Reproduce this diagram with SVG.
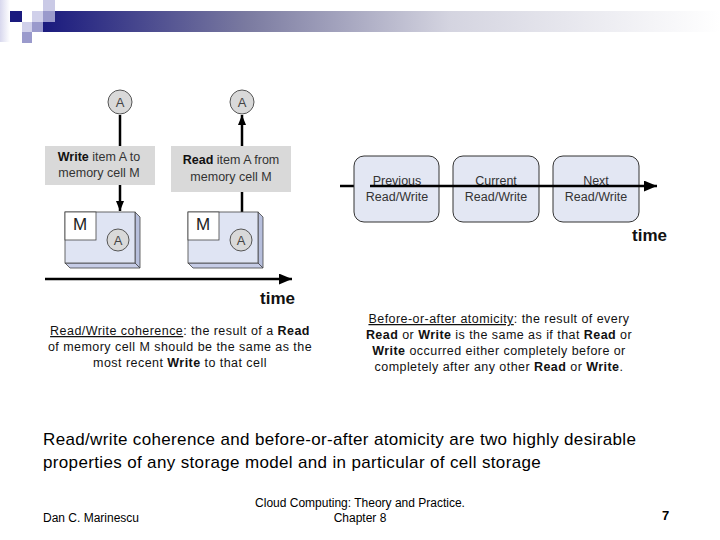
<svg xmlns="http://www.w3.org/2000/svg" width="720" height="540" viewBox="0 0 720 540">
<defs>
<linearGradient id="bar" x1="0" y1="0" x2="1" y2="0">
<stop offset="0" stop-color="#1a1a7e"/>
<stop offset="0.3" stop-color="#7a7aa0"/>
<stop offset="0.6" stop-color="#d4d4e0"/>
<stop offset="1" stop-color="#ffffff"/>
</linearGradient>
<linearGradient id="edge" x1="0" y1="0" x2="1" y2="0">
<stop offset="0" stop-color="#d8d8ee"/>
<stop offset="1" stop-color="#ffffff"/>
</linearGradient>
<marker id="ah" viewBox="0 0 10 10" refX="10" refY="5" markerWidth="10" markerHeight="10" markerUnits="userSpaceOnUse" orient="auto">
<path d="M0,1 L10,5 L0,9 Z" fill="#000"/>
</marker>
<marker id="ahb" viewBox="0 0 12 10" refX="12" refY="5" markerWidth="13" markerHeight="11" markerUnits="userSpaceOnUse" orient="auto">
<path d="M0,0 L12,5 L0,10 Z" fill="#000"/>
</marker>
</defs>
<style>
text{font-family:"Liberation Sans",Arial,sans-serif}
.lbl{font-size:12.5px;fill:#333;text-anchor:middle}
.lbox{fill:#d9d9d9}
.circ{fill:#d9d9d9;stroke:#555;stroke-width:1}
.ctext{font-size:13px;fill:#444;text-anchor:middle}
.front{fill:#dfe4f3;stroke:#444;stroke-width:0.8}
.side{fill:#b7bfdc;stroke:#444;stroke-width:0.8}
.bot{fill:#c6cce6;stroke:#444;stroke-width:0.8}
.mbox{fill:#fff;stroke:#444;stroke-width:0.8}
.mtext{font-size:17px;fill:#222;text-anchor:middle}
.rbox{fill:#e3e7f3;stroke:#333;stroke-width:1}
.rt{font-size:12.5px;fill:#333;text-anchor:middle}
.cap{font-size:12.5px;fill:#111;text-anchor:middle;letter-spacing:0.45px}
.time{font-size:17px;font-weight:bold;fill:#111}
.sum{font-size:17px;fill:#000;letter-spacing:0.35px}
.conn{stroke:#000;stroke-width:2.5;fill:none}
</style>

<!-- header decoration -->
<g id="header">
<rect x="0" y="0" width="10" height="42" fill="url(#edge)"/>
<rect x="43" y="11" width="677" height="21" fill="url(#bar)"/>
<rect x="43" y="0" width="12" height="11" fill="#cacae6"/>
<rect x="43" y="11" width="12" height="11" fill="#9a9acc"/>
<rect x="32" y="11" width="11" height="11" fill="#d0d0ea"/>
<rect x="10" y="11" width="12" height="11" fill="#1a1a7e"/>
<rect x="22" y="22" width="10" height="10" fill="#d0d0ea"/>
<rect x="32" y="22" width="11" height="10" fill="#9a9acc"/>
<rect x="22" y="32" width="10" height="11" fill="#9a9acc"/>
</g>

<!-- connectors -->
<g id="connectors">
<line class="conn" x1="120" y1="115" x2="120" y2="146"/>
<line class="conn" x1="120" y1="185" x2="120" y2="211" marker-end="url(#ah)"/>
<line class="conn" x1="242" y1="146" x2="242" y2="115" marker-end="url(#ah)"/>
<line class="conn" x1="242" y1="192" x2="242" y2="212"/>
<line class="conn" x1="45" y1="279" x2="292" y2="279" marker-end="url(#ahb)"/>
<line class="conn" x1="340" y1="186" x2="360" y2="186"/>
</g>

<!-- left diagram -->
<g id="circleA1">
<circle class="circ" cx="120" cy="102" r="12"/>
<text class="ctext" x="120" y="107">A</text>
</g>
<g id="circleA2">
<circle class="circ" cx="242" cy="102" r="12"/>
<text class="ctext" x="242" y="107">A</text>
</g>
<g id="writeLabel">
<rect class="lbox" x="45" y="146" width="110" height="39"/>
<text class="lbl" x="99" y="161"><tspan font-weight="bold" fill="#111">Write</tspan> item A to</text>
<text class="lbl" x="99" y="177">memory cell M</text>
</g>
<g id="readLabel">
<rect class="lbox" x="171" y="146" width="120" height="46"/>
<text class="lbl" x="231" y="164"><tspan font-weight="bold" fill="#111">Read</tspan> item A from</text>
<text class="lbl" x="231" y="181">memory cell M</text>
</g>
<g id="cellM1">
<polygon class="side" points="135,212 140,217 140,268 135,263"/>
<polygon class="bot" points="65,263 135,263 140,268 70,268"/>
<rect class="front" x="65" y="212" width="70" height="51"/>
<rect class="mbox" x="65" y="212" width="31" height="28"/>
<text class="mtext" x="80" y="230">M</text>
<circle class="circ" cx="118" cy="240" r="11"/>
<text class="ctext" x="118" y="245">A</text>
</g>
<g id="cellM2">
<polygon class="side" points="258,212 263,217 263,268 258,263"/>
<polygon class="bot" points="188,263 258,263 263,268 193,268"/>
<rect class="front" x="188" y="212" width="70" height="51"/>
<rect class="mbox" x="188" y="212" width="31" height="28"/>
<text class="mtext" x="203" y="230">M</text>
<circle class="circ" cx="241" cy="240" r="11"/>
<text class="ctext" x="241" y="245">A</text>
</g>
<text class="time" x="260" y="304">time</text>

<!-- right diagram -->
<g id="prevRW">
<rect class="rbox" x="354" y="156" width="85" height="66" rx="10"/>
<text class="rt" x="397" y="185">Previous</text>
<text class="rt" x="397" y="201">Read/Write</text>
</g>
<g id="currRW">
<rect class="rbox" x="453" y="156" width="86" height="66" rx="10"/>
<text class="rt" x="496" y="185">Current</text>
<text class="rt" x="496" y="201">Read/Write</text>
</g>
<g id="nextRW">
<rect class="rbox" x="553" y="156" width="86" height="66" rx="10"/>
<text class="rt" x="596" y="185">Next</text>
<text class="rt" x="596" y="201">Read/Write</text>
</g>
<line class="conn" x1="370" y1="186" x2="657" y2="186" marker-end="url(#ahb)"/>
<text class="time" x="632" y="241">time</text>

<!-- captions -->
<g id="coherenceCaption">
<text class="cap" x="180" y="335"><tspan text-decoration="underline">Read/Write coherence</tspan>: the result of a <tspan font-weight="bold">Read</tspan></text>
<text class="cap" x="180" y="351">of memory cell M should be the same as the</text>
<text class="cap" x="180" y="367">most recent <tspan font-weight="bold">Write</tspan> to that cell</text>
</g>
<g id="atomicityCaption">
<text class="cap" x="499" y="323"><tspan text-decoration="underline">Before-or-after atomicity</tspan>: the result of every</text>
<text class="cap" x="499" y="339"><tspan font-weight="bold">Read</tspan> or <tspan font-weight="bold">Write</tspan> is the same as if that <tspan font-weight="bold">Read</tspan> or</text>
<text class="cap" x="499" y="355"><tspan font-weight="bold">Write</tspan> occurred either completely before or</text>
<text class="cap" x="499" y="371">completely after any other <tspan font-weight="bold">Read</tspan> or <tspan font-weight="bold">Write</tspan>.</text>
</g>

<!-- summary -->
<text class="sum" x="43" y="445">Read/write coherence and before-or-after atomicity are two highly desirable</text>
<text class="sum" x="43" y="468">properties of any storage model and in particular of cell storage</text>

<!-- footer -->
<text x="43" y="522" font-size="12" fill="#000">Dan C. Marinescu</text>
<text x="360" y="507" font-size="12" fill="#000" text-anchor="middle">Cloud Computing: Theory and Practice.</text>
<text x="360" y="522" font-size="12" fill="#000" text-anchor="middle">Chapter 8</text>
<text x="662" y="520" font-size="13" font-weight="bold" fill="#000">7</text>
</svg>
